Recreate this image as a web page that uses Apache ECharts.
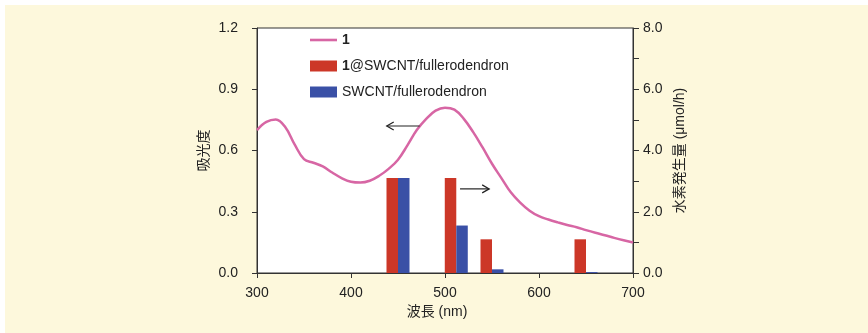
<!DOCTYPE html>
<html>
<head>
<meta charset="utf-8">
<script src="https://cdn.jsdelivr.net/npm/echarts@6/dist/echarts.min.js"></script>
<style>
  html, body { margin: 0; padding: 0; background: #ffffff; }
  #bg { position: absolute; left: 5px; top: 5px; width: 863px; height: 328px; background: #fdf8dc; }
  #chart { position: absolute; left: 0; top: 0; width: 868px; height: 333px; }
</style>
</head>
<body>
<div id="bg"></div>
<div id="chart"></div>
<script>
// Absorption spectrum of 1 (wavelength nm, absorbance)
const specWavelength = [300, 310, 320, 330, 340, 350, 360, 370, 380, 390, 400, 410, 420, 430, 440, 450, 460, 470, 480, 490, 500, 510, 520, 530, 540, 550, 560, 570, 580, 590, 600, 610, 620, 630, 640, 650, 660, 670, 680, 690, 700];
const specAbsorbance = [0.70, 0.74, 0.752, 0.715, 0.63, 0.558, 0.54, 0.522, 0.492, 0.465, 0.447, 0.443, 0.452, 0.476, 0.51, 0.555, 0.625, 0.70, 0.755, 0.795, 0.81, 0.80, 0.755, 0.69, 0.615, 0.535, 0.465, 0.395, 0.345, 0.305, 0.278, 0.262, 0.248, 0.235, 0.224, 0.21, 0.197, 0.185, 0.172, 0.16, 0.149];

// H2 evolution (μmol/h) at irradiation wavelengths
const barWavelength = [450, 512, 550, 650];
const h2Composite = [3.1, 3.1, 1.1, 1.1];    // 1@SWCNT/fullerodendron
const h2Reference = [3.1, 1.55, 0.12, 0.03]; // SWCNT/fullerodendron

// Axis ticks
const xTicks = { min: 300, max: 700, interval: 100 };
const yLeftTicks = { min: 0, max: 1.2, interval: 0.3 };
const yRightTicks = { min: 0, max: 8, interval: 1 };

// Annotation arrows: [from wavelength, to wavelength, absorbance level]
const arrows = [[473, 438, 0.72], [516, 547, 0.412]];

const names = ['1', '1@SWCNT/fullerodendron', 'SWCNT/fullerodendron'];
const FONT = '"Liberation Sans", Arial, "Noto Sans CJK JP", sans-serif';
const PINK = '#d766a4';

const chart = echarts.init(document.getElementById('chart'), null, { renderer: 'canvas' });

const option = {
  backgroundColor: 'transparent',
  animation: false,
  textStyle: { fontFamily: FONT },
  grid: {
    left: 257, right: 235, top: 28, bottom: 60,
    show: true, backgroundColor: '#ffffff', borderColor: '#333', borderWidth: 1
  },
  legend: {
    orient: 'vertical',
    left: 305, top: 28,
    itemWidth: 27, itemHeight: 11, itemGap: 12,
    data: [
      { name: names[0], icon: 'path://M0,0 L27,0 L27,2.6 L0,2.6 Z', itemStyle: { color: PINK } },
      { name: names[1], icon: 'rect' },
      { name: names[2], icon: 'rect' }
    ],
    selectedMode: false,
    textStyle: {
      fontFamily: FONT, fontSize: 14, color: '#222',
      rich: { b: { fontWeight: 'bold', fontSize: 14, fontFamily: FONT, color: '#222' },
              n: { fontSize: 14, fontFamily: FONT, color: '#222' } }
    },
    formatter: function (n) {
      if (n === '1') return '{b|1}';
      if (n.indexOf('1@') === 0) return '{b|1}{n|' + n.slice(1) + '}';
      return '{n|' + n + '}';
    }
  },
  xAxis: {
    type: 'value',
    min: xTicks.min, max: xTicks.max, interval: xTicks.interval,
    name: '波長 (nm)', nameLocation: 'middle', nameGap: 32,
    nameTextStyle: { fontSize: 14, color: '#222', fontFamily: FONT, padding: [0, 16, 0, 0] },
    axisLine: { lineStyle: { color: '#333', width: 1 } },
    axisTick: { show: true, inside: false, length: 5, lineStyle: { color: '#333' } },
    axisLabel: { fontSize: 14, color: '#222', margin: 13, fontFamily: FONT },
    splitLine: { show: false }
  },
  yAxis: [
    {
      type: 'value', position: 'left',
      min: yLeftTicks.min, max: yLeftTicks.max, interval: yLeftTicks.interval,
      name: '吸光度', nameLocation: 'middle', nameGap: 46, nameRotate: 90,
      nameTextStyle: { fontSize: 14, color: '#222', fontFamily: FONT },
      axisLine: { show: true, lineStyle: { color: '#333', width: 1 } },
      axisTick: { show: true, inside: false, length: 5, lineStyle: { color: '#333' } },
      axisLabel: { fontSize: 14, color: '#222', margin: 19, fontFamily: FONT,
                   formatter: v => v.toFixed(1) },
      splitLine: { show: false }
    },
    {
      type: 'value', position: 'right',
      min: yRightTicks.min, max: yRightTicks.max, interval: yRightTicks.interval,
      name: '水素発生量 (μmol/h)', nameLocation: 'middle', nameGap: 40, nameRotate: 90,
      nameTextStyle: { fontSize: 14, color: '#222', fontFamily: FONT },
      axisLine: { show: true, lineStyle: { color: '#333', width: 1 } },
      axisTick: { show: true, inside: false, length: 6, lineStyle: { color: '#333' } },
      axisLabel: { fontSize: 14, color: '#222', margin: 10, fontFamily: FONT,
                   formatter: v => (Math.round(v) % 2 === 0 ? v.toFixed(1) : '') },
      splitLine: { show: false }
    }
  ],
  series: [
    {
      name: names[1], type: 'bar', yAxisIndex: 1,
      data: barWavelength.map((w, i) => [w, h2Composite[i]]),
      barWidth: 11.5, barGap: '0%',
      itemStyle: { color: '#cc3728' }
    },
    {
      name: names[2], type: 'bar', yAxisIndex: 1,
      data: barWavelength.map((w, i) => [w, h2Reference[i]]),
      barWidth: 11.5, barGap: '0%',
      itemStyle: { color: '#3a50a6' }
    },
    {
      name: names[0], type: 'line', yAxisIndex: 0,
      data: specWavelength.map((w, i) => [w, specAbsorbance[i]]),
      smooth: 0.4, symbol: 'none',
      lineStyle: { color: PINK, width: 2.5 },
      itemStyle: { color: PINK },
      z: 5
    },
    {
      type: 'custom', yAxisIndex: 0, silent: true, z: 6,
      data: arrows,
      encode: { x: [0, 1], y: 2 },
      renderItem: function (params, api) {
        const p0 = api.coord([api.value(0), api.value(2)]);
        const p1 = api.coord([api.value(1), api.value(2)]);
        const dir = p1[0] > p0[0] ? 1 : -1;
        const hx = p1[0] - dir * 7;
        return {
          type: 'group',
          children: [
            { type: 'line', shape: { x1: p0[0], y1: p0[1], x2: p1[0], y2: p1[1] },
              style: { stroke: '#222', lineWidth: 1.2 } },
            { type: 'polyline', shape: { points: [[hx, p1[1] - 4], [p1[0], p1[1]], [hx, p1[1] + 4]] },
              style: { stroke: '#222', lineWidth: 1.2, fill: 'none' } }
          ]
        };
      }
    }
  ]
};

chart.setOption(option);
</script>
</body>
</html>
